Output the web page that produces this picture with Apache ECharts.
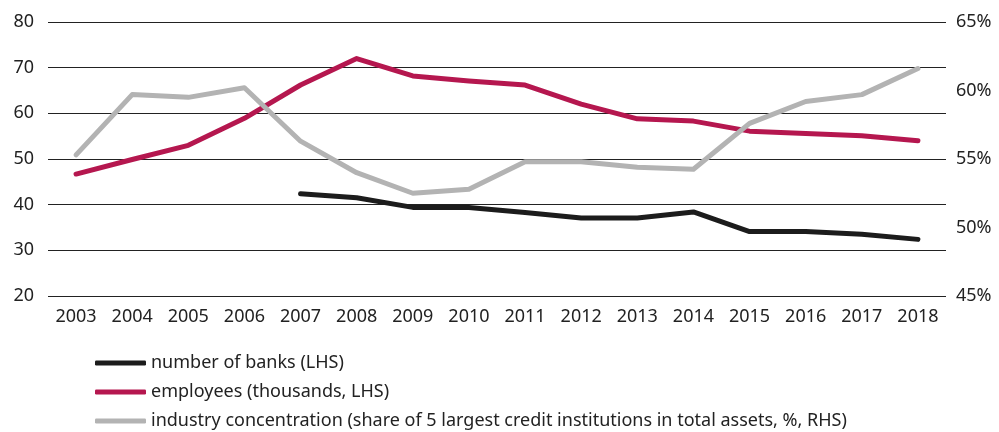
<!DOCTYPE html>
<html>
<head>
<meta charset="utf-8">
<script src="https://cdn.jsdelivr.net/npm/echarts@6/dist/echarts.min.js"></script>
<style>
  html, body { margin: 0; padding: 0; background: #fff; }
  #chart { width: 999px; height: 432px; }
</style>
</head>
<body>
<div id="chart"></div>
<script>
// years on the x axis
var years = ['2003','2004','2005','2006','2007','2008','2009','2010','2011','2012','2013','2014','2015','2016','2017','2018'];
// number of banks (LHS), no data before 2007
var banks = [null, null, null, null, 42.4, 41.5, 39.4, 39.4, 38.3, 37.1, 37.1, 38.4, 34.1, 34.1, 33.5, 32.4];
// employees in thousands (LHS)
var employees = [46.7, 49.9, 53.0, 58.9, 66.2, 72.0, 68.2, 67.1, 66.2, 62.0, 58.8, 58.3, 56.1, 55.6, 55.1, 54.0];
// share of 5 largest credit institutions, % (RHS)
var concentration = [55.3, 59.7, 59.5, 60.2, 56.3, 54.0, 52.5, 52.8, 54.8, 54.8, 54.4, 54.25, 57.6, 59.2, 59.7, 61.6];

var names = [
  'number of banks (LHS)',
  'employees (thousands, LHS)',
  'industry concentration (share of 5 largest credit institutions in total assets, %, RHS)'
];

var chart = echarts.init(document.getElementById('chart'));
var font = '"Noto Sans", sans-serif';

function lineSeries(name, data, color, axisIndex) {
  return {
    name: name,
    type: 'line',
    yAxisIndex: axisIndex,
    data: data,
    showSymbol: false,
    symbol: 'none',
    connectNulls: false,
    lineStyle: { color: color, width: 5, cap: 'round', join: 'round' },
    itemStyle: { color: color }
  };
}

chart.setOption({
  animation: false,
  textStyle: { fontFamily: font },
  grid: { left: 48, right: 53, top: 22, bottom: 136 },
  legend: {
    orient: 'vertical',
    left: 90,
    top: 349,
    height: 100,
    itemWidth: 51,
    itemHeight: 5,
    itemGap: 11,
    icon: 'roundRect',
    textStyle: { fontFamily: font, fontSize: 18, color: '#222' },
    data: names
  },
  xAxis: {
    type: 'category',
    data: years,
    boundaryGap: true,
    axisLine: { show: false },
    axisTick: { show: false },
    axisLabel: { fontSize: 18, color: '#222', margin: 12 }
  },
  yAxis: [
    {
      type: 'value',
      min: 20, max: 80, interval: 10,
      axisLine: { show: false },
      axisTick: { show: false },
      axisLabel: { fontSize: 18, color: '#222', margin: 14 },
      splitLine: { lineStyle: { color: '#222', width: 1.2 } }
    },
    {
      type: 'value',
      position: 'right',
      min: 45, max: 65, interval: 5,
      axisLine: { show: false },
      axisTick: { show: false },
      axisLabel: { fontSize: 18, color: '#222', margin: 10, formatter: '{value}%' },
      splitLine: { show: false }
    }
  ],
  series: [
    lineSeries(names[0], banks, '#1c1c1c', 0),
    lineSeries(names[1], employees, '#b5174f', 0),
    lineSeries(names[2], concentration, '#b3b3b3', 1)
  ]
});
</script>
</body>
</html>
